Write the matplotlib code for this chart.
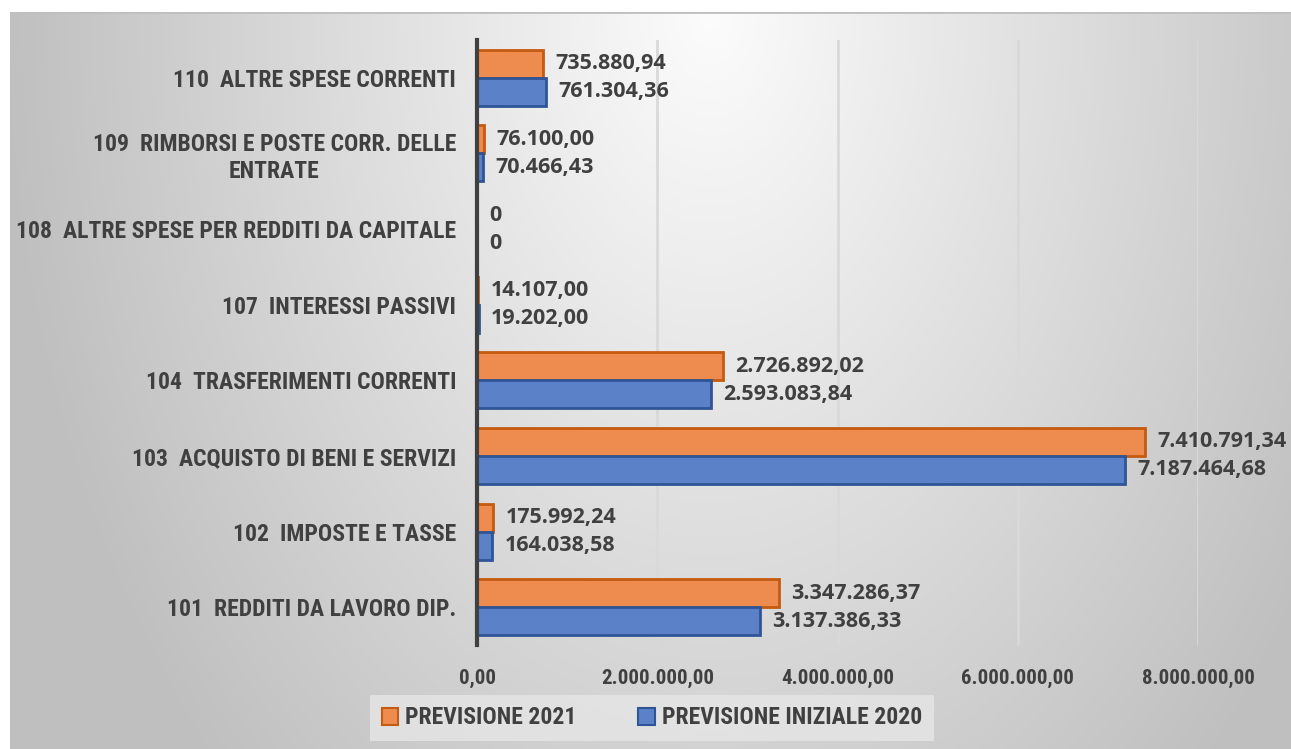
import numpy as np
import matplotlib.pyplot as plt
from matplotlib import font_manager
from matplotlib.patches import Patch

# data (bottom to top as drawn)
categories = [
    "101  REDDITI DA LAVORO DIP.",
    "102  IMPOSTE E TASSE",
    "103  ACQUISTO DI BENI E SERVIZI",
    "104  TRASFERIMENTI CORRENTI",
    "107  INTERESSI PASSIVI",
    "108  ALTRE SPESE PER REDDITI DA CAPITALE",
    "109  RIMBORSI E POSTE CORR. DELLE\nENTRATE",
    "110  ALTRE SPESE CORRENTI",
]
prev_2021 = [3347286.37, 175992.24, 7410791.34, 2726892.02, 14107.00, 0, 76100.00, 735880.94]
prev_2020 = [3137386.33, 164038.58, 7187464.68, 2593083.84, 19202.00, 0, 70466.43, 761304.36]
series_names = ["PREVISIONE 2021", "PREVISIONE INIZIALE 2020"]
xticks = [0, 2000000, 4000000, 6000000, 8000000]


def pick_font(names):
    avail = {f.name for f in font_manager.fontManager.ttflist}
    for n in names:
        if n in avail:
            return n
    return "DejaVu Sans"


narrow = pick_font(["Liberation Sans Narrow", "Roboto Condensed", "Lato", "Liberation Sans"])
label_font = pick_font(["Open Sans", "Noto Sans", "DejaVu Sans"])


def it_fmt(v):
    if v == 0:
        return "0"
    s = f"{v:,.2f}"
    return s.replace(",", "X").replace(".", ",").replace("X", ".")


W, H = 1291, 749
fig = plt.figure(figsize=(W / 100, H / 100), dpi=100)
fig.patch.set_facecolor("white")

# gradient background
bg = fig.add_axes([10 / W, 0, (W - 10) / W, (H - 12) / H], zorder=0)
xx, yy = np.meshgrid(np.arange(10, W), np.arange(12, H))
d = np.sqrt(((xx - 710) / 700.0) ** 2 + ((yy - 12) / 1050.0) ** 2)
v = np.clip(252 - 60 * d, 192, 255) / 255.0
bg.imshow(np.dstack([v, v, v]), aspect="auto", extent=[0, 1, 0, 1], origin="upper")
bg.axhline(1, color="#bfbfbf", lw=2)
bg.axis("off")

ax = fig.add_axes([477 / W, (H - 645) / H, (1198 - 477) / W, (645 - 40) / H], zorder=1)
ax.patch.set_alpha(0)

y = np.arange(len(categories))
h = 0.37
orange, orange_edge = "#ee8c4f", "#c55a11"
blue, blue_edge = "#5b82c8", "#2f5597"

b1 = ax.barh(y + h / 2, prev_2021, height=h, color=orange, edgecolor=orange_edge, linewidth=2, zorder=3)
b2 = ax.barh(y - h / 2, prev_2020, height=h, color=blue, edgecolor=blue_edge, linewidth=2, zorder=3)

for bars, vals in ((b1, prev_2021), (b2, prev_2020)):
    for bar, val in zip(bars, vals):
        ax.annotate(it_fmt(val), (bar.get_width(), bar.get_y() + bar.get_height() / 2),
                    xytext=(9, 0), textcoords="offset points", va="center", ha="left",
                    fontsize=15.5, fontweight="bold", color="#404040", family=label_font,
                    annotation_clip=False)

ax.set_xlim(0, 8000000)
ax.set_ylim(-0.5, len(categories) - 0.5)
ax.set_xticks(xticks)
ax.set_xticklabels([it_fmt(t) if t else "0,00" for t in xticks], family=narrow,
                   fontsize=15, fontweight="bold", color="#404040")
ax.set_yticks(y)
ax.set_yticklabels(categories, family=narrow, fontsize=17, fontweight="bold",
                   color="#404040", multialignment="center", linespacing=1.25)
ax.tick_params(axis="both", length=0)
ax.tick_params(axis="y", pad=15)
ax.tick_params(axis="x", pad=17)
ax.grid(axis="x", color="#d9d9d9", lw=2, zorder=0)
for s in ["top", "right", "bottom"]:
    ax.spines[s].set_visible(False)
ax.spines["left"].set_color("#404040")
ax.spines["left"].set_linewidth(3)
ax.spines["left"].set_zorder(4)

handles = [Patch(facecolor=orange, edgecolor=orange_edge, lw=1.5),
           Patch(facecolor=blue, edgecolor=blue_edge, lw=1.5)]
leg = fig.legend(handles, series_names, loc="center", bbox_to_anchor=(652 / W, (H - 718) / H),
                 ncol=2, frameon=True, fancybox=False, handlelength=0.7, handleheight=0.7,
                 handletextpad=0.3, columnspacing=2.6, borderpad=0.5, borderaxespad=0,
                 prop={"family": narrow, "size": 17, "weight": "bold"})
leg.get_frame().set_facecolor("#e6e6e6")
leg.get_frame().set_edgecolor("none")
leg.get_frame().set_alpha(0.8)
for t in leg.get_texts():
    t.set_color("#404040")

fig.savefig("out.png", dpi=100)
